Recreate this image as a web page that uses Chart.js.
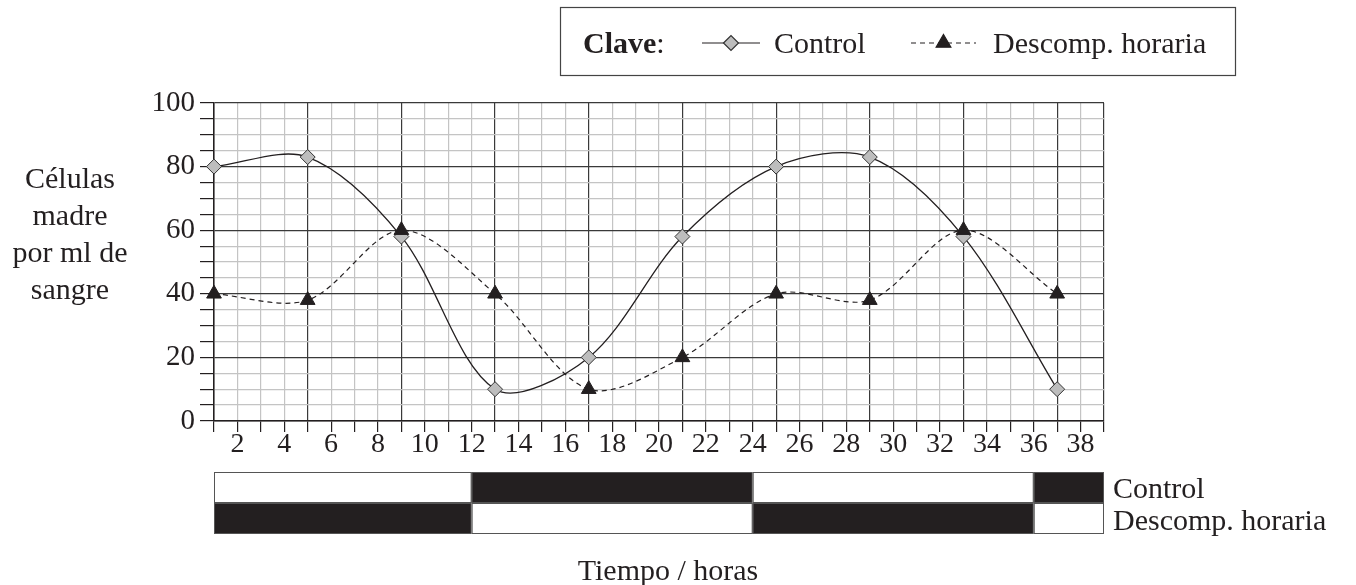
<!DOCTYPE html>
<html>
<head>
<meta charset="utf-8">
<script src="https://cdn.jsdelivr.net/npm/chart.js@4.4.0/dist/chart.umd.min.js"></script>
<style>
  html, body { margin: 0; padding: 0; background: #fff; }
</style>
</head>
<body>
<canvas id="chart" width="1356" height="585"></canvas>
<script>
// datos
const hours = [1, 5, 9, 13, 17, 21, 25, 29, 33, 37];
const controlValues = [80, 83, 58, 10, 20, 58, 80, 83, 58, 10];
const descompValues = [40, 38, 60, 40, 10, 20, 40, 38, 60, 40];
const xTickLabels = [2, 4, 6, 8, 10, 12, 14, 16, 18, 20, 22, 24, 26, 28, 30, 32, 34, 36, 38];
const yTickLabels = [0, 20, 40, 60, 80, 100];
// periodos de luz / oscuridad (barras de abajo)
const periodEdges = [1, 12, 24, 36, 39];
const controlDark = [false, true, false, true];
const descompDark = [true, false, true, false];
const yTitleLines = ['Células', 'madre', 'por ml de', 'sangre'];

const ink = '#231f20';
const darkGrid = '#3a3a3a';
const lightGrid = '#c4c4c4';
const serif = "'Liberation Serif', 'Times New Roman', serif";

// plugin para la clave, titulos y barras de luz
const extras = {
  id: 'extras',
  afterDraw(chart) {
    const ctx = chart.ctx;
    const x = chart.scales.x;
    ctx.save();
    ctx.fillStyle = ink;
    ctx.strokeStyle = ink;

    // titulo eje y
    ctx.font = '30px ' + serif;
    ctx.textAlign = 'center';
    ctx.textBaseline = 'alphabetic';
    yTitleLines.forEach((line, i) => ctx.fillText(line, 70, 188 + i * 37));

    // barras de luz / oscuridad
    const rows = [
      { dark: controlDark, top: 472, label: 'Control', base: 498 },
      { dark: descompDark, top: 503, label: 'Descomp. horaria', base: 530 },
    ];
    rows.forEach((row) => {
      for (let i = 0; i < periodEdges.length - 1; i++) {
        const x0 = x.getPixelForValue(periodEdges[i]);
        const x1 = x.getPixelForValue(periodEdges[i + 1]);
        ctx.fillStyle = row.dark[i] ? ink : '#ffffff';
        ctx.fillRect(x0, row.top, x1 - x0, 31);
        ctx.lineWidth = 1;
        ctx.strokeStyle = '#555';
        ctx.strokeRect(x0 + 0.5, row.top + 0.5, x1 - x0 - 1, 30);
      }
      ctx.fillStyle = ink;
      ctx.textAlign = 'left';
      ctx.fillText(row.label, x.getPixelForValue(39) + 9, row.base);
    });

    // titulo eje x
    ctx.textAlign = 'center';
    ctx.fillText('Tiempo / horas', 668, 580);

    // clave
    ctx.lineWidth = 1.2;
    ctx.strokeStyle = '#444';
    ctx.strokeRect(560.5, 7.5, 675, 68);
    ctx.textAlign = 'left';
    ctx.fillStyle = ink;
    ctx.font = 'bold 30px ' + serif;
    ctx.fillText('Clave', 583, 53);
    const w = ctx.measureText('Clave').width;
    ctx.font = '30px ' + serif;
    ctx.fillText(':', 583 + w, 53);

    ctx.strokeStyle = ink;
    ctx.lineWidth = 1.2;
    ctx.beginPath();
    ctx.moveTo(702, 43);
    ctx.lineTo(760, 43);
    ctx.stroke();
    ctx.fillStyle = '#bdbdbd';
    ctx.strokeStyle = '#333';
    Chart.helpers.drawPoint(ctx, { pointStyle: 'rectRot', radius: 7.5, borderWidth: 1 }, 731, 43);
    ctx.fillStyle = ink;
    ctx.fillText('Control', 774, 53);

    ctx.strokeStyle = ink;
    ctx.setLineDash([5, 4]);
    ctx.beginPath();
    ctx.moveTo(911, 43);
    ctx.lineTo(976, 43);
    ctx.stroke();
    ctx.setLineDash([]);
    ctx.fillStyle = ink;
    Chart.helpers.drawPoint(ctx, { pointStyle: 'triangle', radius: 8.5, borderWidth: 1 }, 943.5, 43);
    ctx.fillText('Descomp. horaria', 993, 53);

    ctx.restore();
  },
};

const ctx = document.getElementById('chart').getContext('2d');
new Chart(ctx, {
  type: 'line',
  data: {
    datasets: [
      {
        label: 'Descomp. horaria',
        data: hours.map((h, i) => ({ x: h, y: descompValues[i] })),
        borderColor: ink,
        borderWidth: 1.2,
        borderDash: [5, 4],
        tension: 0.32,
        pointStyle: 'triangle',
        pointRadius: 8.5,
        pointBackgroundColor: ink,
        pointBorderColor: ink,
        pointBorderWidth: 1,
        clip: false,
      },
      {
        label: 'Control',
        data: hours.map((h, i) => ({ x: h, y: controlValues[i] })),
        borderColor: ink,
        borderWidth: 1.3,
        tension: 0.32,
        pointStyle: 'rectRot',
        pointRadius: 7.5,
        pointBackgroundColor: '#bdbdbd',
        pointBorderColor: '#333',
        pointBorderWidth: 1,
        clip: false,
      },
    ],
  },
  options: {
    responsive: false,
    animation: false,
    devicePixelRatio: 1,
    layout: { padding: { left: 0, top: 103, right: 252, bottom: 0 } },
    plugins: {
      legend: { display: false },
      tooltip: { enabled: false },
    },
    scales: {
      x: {
        type: 'linear',
        min: 1,
        max: 39,
        afterFit: (scale) => { scale.height = 164; },
        border: { color: ink, width: 1.5 },
        grid: {
          color: (c) => {
            const v = c.tick.value;
            return (v === 39 || (v - 1) % 4 === 0) ? darkGrid : lightGrid;
          },
          lineWidth: 1.2,
          tickColor: ink,
          tickLength: 11,
        },
        ticks: {
          stepSize: 1,
          autoSkip: false,
          maxRotation: 0,
          padding: -4,
          color: ink,
          font: { family: serif, size: 28 },
          callback: (v) => (xTickLabels.includes(v) ? String(v) : ''),
        },
      },
      y: {
        min: 0,
        max: 100,
        afterFit: (scale) => { scale.width = 214; },
        border: { color: ink, width: 1.5 },
        grid: {
          color: (c) => (c.tick.value % 20 === 0 ? darkGrid : lightGrid),
          lineWidth: 1.2,
          tickColor: ink,
          tickLength: 14,
        },
        ticks: {
          stepSize: 5,
          autoSkip: false,
          padding: 5,
          color: ink,
          font: { family: serif, size: 29 },
          callback: (v) => (yTickLabels.includes(v) ? String(v) : ''),
        },
      },
    },
  },
  plugins: [extras],
});
</script>
</body>
</html>
